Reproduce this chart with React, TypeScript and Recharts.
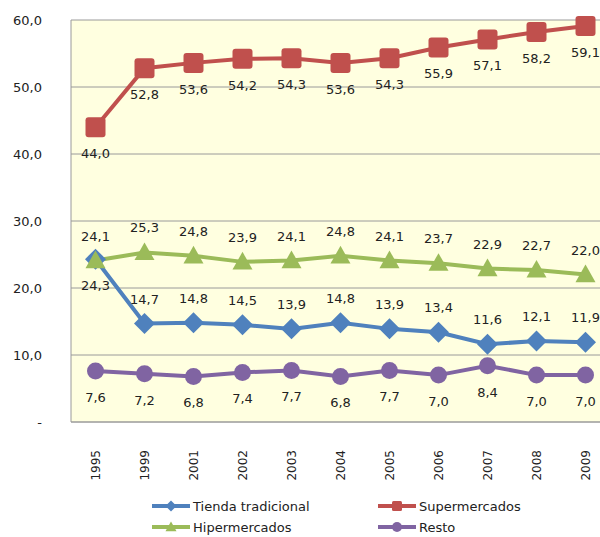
import { LineChart, Line, XAxis, YAxis, CartesianGrid, LabelList } from 'recharts';

const years = ['1995', '1999', '2001', '2002', '2003', '2004', '2005', '2006', '2007', '2008', '2009'];
const tiendaTradicional = [24.3, 14.7, 14.8, 14.5, 13.9, 14.8, 13.9, 13.4, 11.6, 12.1, 11.9];
const supermercados = [44.0, 52.8, 53.6, 54.2, 54.3, 53.6, 54.3, 55.9, 57.1, 58.2, 59.1];
const hipermercados = [24.1, 25.3, 24.8, 23.9, 24.1, 24.8, 24.1, 23.7, 22.9, 22.7, 22.0];
const resto = [7.6, 7.2, 6.8, 7.4, 7.7, 6.8, 7.7, 7.0, 8.4, 7.0, 7.0];
const yTicks = [0, 10, 20, 30, 40, 50, 60];

const data = years.map((year, i) => ({
  year,
  tienda: tiendaTradicional[i],
  super: supermercados[i],
  hiper: hipermercados[i],
  resto: resto[i],
}));

const BLUE = '#4F81BD';
const RED = '#C0504D';
const GREEN = '#9BBB59';
const PURPLE = '#8064A2';
const FONT = '"DejaVu Sans", Verdana, sans-serif';

const fmt = (v: number) => v.toFixed(1).replace('.', ',');

// marker shapes
const square = (cx: number, cy: number, s: number, fill: string, key?: any) => (
  <rect key={key} x={cx - s / 2} y={cy - s / 2} width={s} height={s} rx={s * 0.15} fill={fill} />
);
const diamond = (cx: number, cy: number, s: number, fill: string, key?: any) => (
  <polygon key={key} points={`${cx},${cy - s / 2} ${cx + s / 2},${cy} ${cx},${cy + s / 2} ${cx - s / 2},${cy}`} fill={fill} />
);
const triangle = (cx: number, cy: number, s: number, fill: string, key?: any) => (
  <polygon key={key} points={`${cx},${cy - s * 0.5} ${cx + s / 2},${cy + s * 0.38} ${cx - s / 2},${cy + s * 0.38}`} fill={fill} />
);
const circle = (cx: number, cy: number, s: number, fill: string, key?: any) => (
  <circle key={key} cx={cx} cy={cy} r={s / 2} fill={fill} />
);

const makeDot = (shape: typeof square, size: number, fill: string) => (props: any) =>
  shape(props.cx, props.cy, size, fill, props.index);

const makeLabel = (below: (i: number) => boolean) => (props: any) => {
  const { x, y, value, index } = props;
  const dy = below(index) ? 31 : -20;
  return (
    <text key={index} x={x} y={y + dy} textAnchor="middle" fontSize={13} fontFamily={FONT} fill="#222">
      {fmt(Number(value))}
    </text>
  );
};

const XTick = (props: any) => {
  const { x, y, payload } = props;
  return (
    <text
      x={x}
      y={y + 20}
      transform={`rotate(-90 ${x} ${y + 20})`}
      textAnchor="end"
      dy="0.35em"
      fontSize={12}
      fontFamily={FONT}
      fill="#222"
    >
      {payload.value}
    </text>
  );
};

const legendItems = [
  { name: 'Tienda tradicional', color: BLUE, shape: diamond, size: 11, left: 152, top: 506 },
  { name: 'Supermercados', color: RED, shape: square, size: 10, left: 378, top: 506 },
  { name: 'Hipermercados', color: GREEN, shape: triangle, size: 11, left: 152, top: 527 },
  { name: 'Resto', color: PURPLE, shape: circle, size: 10, left: 378, top: 527 },
];

export default function App() {
  return (
    <div style={{ position: 'absolute', left: 0, top: 0, width: 600, height: 537, overflow: 'hidden', background: '#fff' }}>
      <LineChart width={620} height={537} data={data} margin={{ top: 20, right: 10, left: 0, bottom: 55 }}>
        <CartesianGrid vertical={false} stroke="#9A9A9A" fill="#FFFFE0" />
        <XAxis
          dataKey="year"
          height={60}
          padding={{ left: 24.5, right: 24.5 }}
          tick={<XTick />}
          tickLine={false}
          axisLine={{ stroke: '#9A9A9A' }}
          interval={0}
        />
        <YAxis
          width={71}
          domain={[0, 60]}
          ticks={yTicks}
          tickFormatter={(v: number) => (v === 0 ? '-' : fmt(v))}
          tick={{ fontSize: 13, fontFamily: FONT, fill: '#222' }}
          tickLine={false}
          tickSize={0}
          tickMargin={29}
          axisLine={{ stroke: '#9A9A9A' }}
        />
        <Line dataKey="tienda" stroke={BLUE} strokeWidth={4} dot={makeDot(diamond, 21, BLUE)} isAnimationActive={false}>
          <LabelList dataKey="tienda" content={makeLabel((i) => i === 0)} />
        </Line>
        <Line dataKey="super" stroke={RED} strokeWidth={4} dot={makeDot(square, 20, RED)} isAnimationActive={false}>
          <LabelList dataKey="super" content={makeLabel(() => true)} />
        </Line>
        <Line dataKey="hiper" stroke={GREEN} strokeWidth={4} dot={makeDot(triangle, 20, GREEN)} isAnimationActive={false}>
          <LabelList dataKey="hiper" content={makeLabel(() => false)} />
        </Line>
        <Line dataKey="resto" stroke={PURPLE} strokeWidth={4} dot={makeDot(circle, 17, PURPLE)} isAnimationActive={false}>
          <LabelList dataKey="resto" content={makeLabel(() => true)} />
        </Line>
      </LineChart>
      {legendItems.map((item) => (
        <div
          key={item.name}
          style={{ position: 'absolute', left: item.left, top: item.top - 10, height: 20, display: 'flex', alignItems: 'center' }}
        >
          <svg width={38} height={20}>
            <line x1={0} y1={10} x2={38} y2={10} stroke={item.color} strokeWidth={4} />
            {item.shape(19, 10, item.size, item.color)}
          </svg>
          <span style={{ marginLeft: 3, fontSize: 13, fontFamily: FONT, color: '#222', whiteSpace: 'nowrap' }}>{item.name}</span>
        </div>
      ))}
    </div>
  );
}
